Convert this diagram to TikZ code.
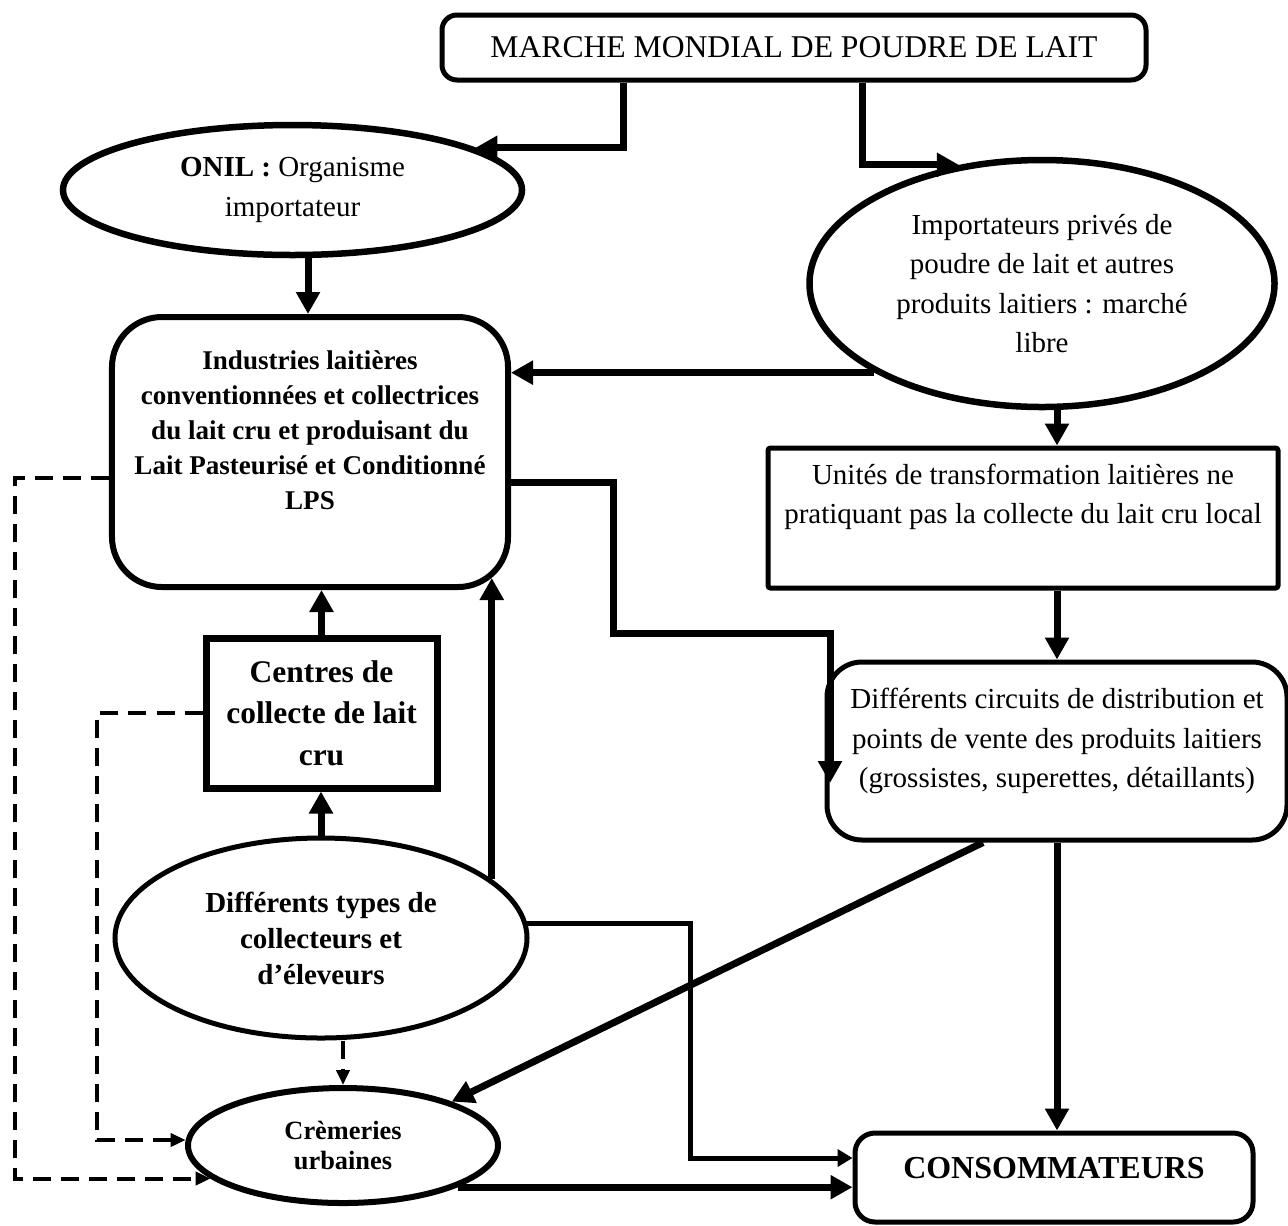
\documentclass[tikz,border=0pt]{standalone}
\usepackage{fontspec}
\setmainfont{Liberation Serif}
\usetikzlibrary{shapes.geometric,arrows.meta}

\tikzstyle{every node}=[align=center, inner sep=0pt]
\tikzstyle{reg}=[font={\fontsize{16.5}{22.5}\selectfont}]
\tikzstyle{bold}=[font={\fontsize{15.4}{19.9}\selectfont\bfseries}]
\tikzstyle{box}=[draw, line width=1mm, rounded corners=0.5mm]
\tikzstyle{roundbox}=[box, rounded corners=3mm]
\tikzstyle{oval}=[draw, ellipse, line width=1.3mm]
\tikzstyle{arr}=[line width=1.4mm, -{Triangle[length=4.4mm,width=4.6mm]}]
\tikzstyle{thinarr}=[line width=1mm, -{Triangle[length=3mm,width=3.4mm]}]
\tikzstyle{dasharr}=[line width=0.8mm, dash pattern=on 3.6mm off 2mm, -{Triangle[length=3mm,width=2.6mm]}]

\begin{document}
\begin{tikzpicture}[x=0.2mm, y=-0.2mm]
    \useasboundingbox (0,0) rectangle (1288,1225);

    % boxes and ovals
    \node [roundbox, minimum width=140.8mm, minimum height=13mm, font={\fontsize{18}{22}\selectfont}]
        (marche) at (794,47.5) {MARCHE MONDIAL DE POUDRE DE LAIT};
    \node [oval, reg, minimum width=91.8mm, minimum height=26mm] (onil) at (292.5,190)
        {\textbf{ONIL :} Organisme\\importateur};
    \node [oval, reg, minimum width=93mm, minimum height=49.4mm] (imp) at (1042,283.5)
        {Importateurs privés de\\poudre de lait et autres\\produits laitiers : marché\\libre};
    \node [roundbox, line width=1.2mm, rounded corners=10mm, minimum width=79.2mm, minimum height=54mm]
        (indus) at (310,452) {};
    \node [bold] (indus-txt) at (310,430)
        {Industries laitières\\conventionnées et collectrices\\du lait cru et produisant du\\Lait Pasteurisé et Conditionné\\LPS};
    \node [box, minimum width=102mm, minimum height=28mm] (unites) at (1023,518) {};
    \node [reg] (unites-txt) at (1023,497)
        {Unités de transformation laitières ne\\pratiquant pas la collecte du lait cru local};
    \node [box, line width=1.4mm, rounded corners=0pt, minimum width=46.2mm, minimum height=30mm,
        font={\fontsize{17.9}{23.6}\selectfont\bfseries}] (centres) at (321.5,713)
        {Centres de\\collecte de lait\\cru};
    \node [roundbox, rounded corners=7mm, minimum width=92mm, minimum height=35.6mm] (dist) at (1057,751) {};
    \node [reg] (dist-txt) at (1057,741)
        {Différents circuits de distribution et\\points de vente des produits laitiers\\(grossistes, superettes, détaillants)};
    \node [oval, line width=1mm, minimum width=82.4mm, minimum height=40mm,
        font={\fontsize{16.5}{20.5}\selectfont\bfseries}] (types) at (321,938)
        {Différents types de\\collecteurs et\\d’éleveurs};
    \node [oval, line width=1.2mm, minimum width=62mm, minimum height=23mm,
        font={\fontsize{15}{17}\selectfont\bfseries}] (crem) at (343,1145.5)
        {Crèmeries\\urbaines};
    \node [roundbox, rounded corners=4mm, minimum width=79.6mm, minimum height=17.8mm] (conso) at (1054,1177.5) {};
    \node [font={\fontsize{18.2}{22}\selectfont\bfseries}] (conso-txt) at (1054,1168) {CONSOMMATEURS};

    % lanes for the connectors
    \coordinate (onil-lane) at (623,0);
    \coordinate (imp-lane) at (862,0);
    \coordinate (indus-lane) at (308,0);
    \coordinate (j1) at (613,482);
    \coordinate (j2) at (830,633);
    \coordinate (j3) at (830,783);
    \coordinate (t1) at (690,1158);
    \coordinate (diag) at (983,0);
    \coordinate (dl1) at (15,478);
    \coordinate (dl2) at (97,0);

    % solid flows
    \draw [arr] (marche.south -| onil-lane) |- (onil.13);
    \draw [arr] (marche.south -| imp-lane) |- (imp.125);
    \draw [arr] (onil.south -| indus-lane) -- (indus.north -| indus-lane);
    \draw [arr] (imp.208) -- (imp.208 -| indus.east);
    \draw [arr] (imp.south -| dist.north) -- (dist.north |- unites.north);
    \draw [arr] (dist.north |- unites.south) -- (dist.north);
    \draw [arr] (indus.east |- j1) -- (j1) |- (j2) -- (j3);
    \draw [arr] (centres.north) -- (centres.north |- indus.south);
    \draw [arr] (types.north) -- (types.north |- centres.south);
    \draw [arr, shorten >=-2.4mm] (types.19) -- (types.19 |- indus.south);
    \draw [thinarr] (types.4) -| (t1) -- (t1 -| conso.west);
    \draw [arr] (crem.-20) -- (crem.-20 -| conso.west);
    \draw [arr] (dist.south -| diag) -- (crem.22);
    \draw [arr] (dist.south) -- (dist.south |- conso.north);

    % dashed flows
    \draw [dasharr] (types.south -| crem.north) -- (crem.north);
    \draw [dasharr] (indus.west |- dl1) -- (dl1) |- (crem.194);
    \draw [dasharr] (centres.west) -- (centres.west -| dl2) |- (crem.178);
\end{tikzpicture}
\end{document}
